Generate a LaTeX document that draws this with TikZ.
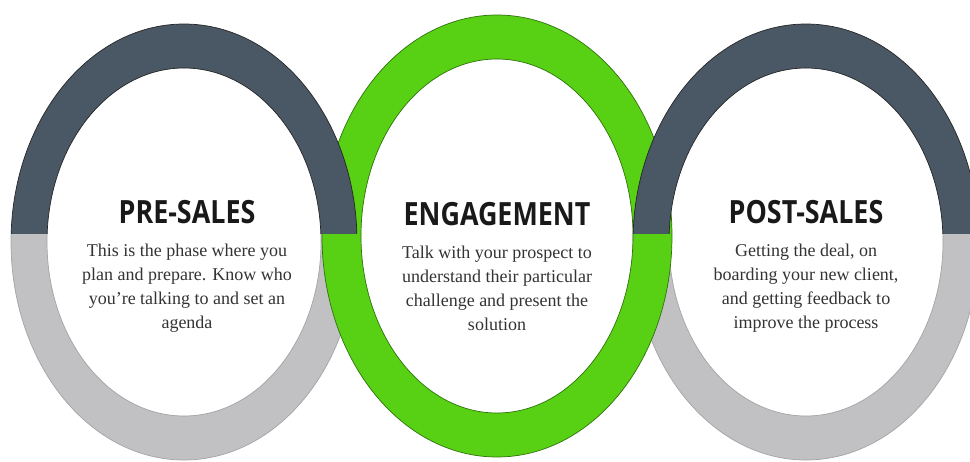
\documentclass[tikz,border=0pt]{standalone}
\usepackage{fontspec}
\setmainfont{Liberation Serif}
\newfontfamily\headfont[FakeStretch=0.84]{Open Sans}
\usepackage{tikz}

\definecolor{slate}{HTML}{4A5764}
\definecolor{ashgray}{HTML}{C1C1C3}
\definecolor{leafgreen}{HTML}{58D115}

\tikzset{
  band/.style={even odd rule, line width=0.7pt},
  headline/.style={anchor=base, inner sep=0pt, text=black!90,
    font=\headfont\bfseries\fontsize{32}{36}\selectfont},
  blurb/.style={anchor=base, inner sep=0pt, text=black!80,
    font=\fontsize{18}{24}\selectfont}
}

\begin{document}
\begin{tikzpicture}[x=1pt,y=-1pt]
\useasboundingbox (0,0) rectangle (970,461);
\coordinate (pre) at (184,242);
\coordinate (eng) at (497,236);
\coordinate (post) at (806,242);

% lower halves, behind the green ring
\foreach \c in {pre,post}{
  \begin{scope}[shift={(\c)}]
    \clip (-200,-9) rectangle (200,300);
    \fill[band, ashgray, draw=ashgray!85!black]
      (0,0) ellipse [x radius=173pt, y radius=218pt]
      (0,0) ellipse [x radius=137pt, y radius=174pt];
  \end{scope}
}

% middle ring
\fill[band, leafgreen, draw=leafgreen!55!black]
  (eng) ellipse [x radius=175pt, y radius=221pt]
  (eng) ellipse [x radius=136pt, y radius=177pt];

% upper halves, in front of the green ring
\foreach \c in {pre,post}{
  \begin{scope}[shift={(\c)}]
    \clip (-200,-9) rectangle (200,-300);
    \fill[band, slate, draw=black!85]
      (0,0) ellipse [x radius=173pt, y radius=218pt]
      (0,0) ellipse [x radius=137pt, y radius=174pt];
  \end{scope}
}

\node[headline] (pretitle) at (187,223) {PRE-SALES};
\node[blurb] (pretext) at (187,256) {
\begin{tabular}[t]{@{}c@{}}
This is the phase where you\\
plan and prepare. Know who\\
you're talking to and set an\\
agenda
\end{tabular}
};

\node[headline] (engtitle) at (497,225) {ENGAGEMENT};
\node[blurb] (engtext) at (497,258) {
\begin{tabular}[t]{@{}c@{}}
Talk with your prospect to\\
understand their particular\\
challenge and present the\\
solution
\end{tabular}
};

\node[headline] (posttitle) at (806,223) {POST-SALES};
\node[blurb] (posttext) at (806,256) {
\begin{tabular}[t]{@{}c@{}}
Getting the deal, on\\
boarding your new client,\\
and getting feedback to\\
improve the process
\end{tabular}
};
\end{tikzpicture}
\end{document}
